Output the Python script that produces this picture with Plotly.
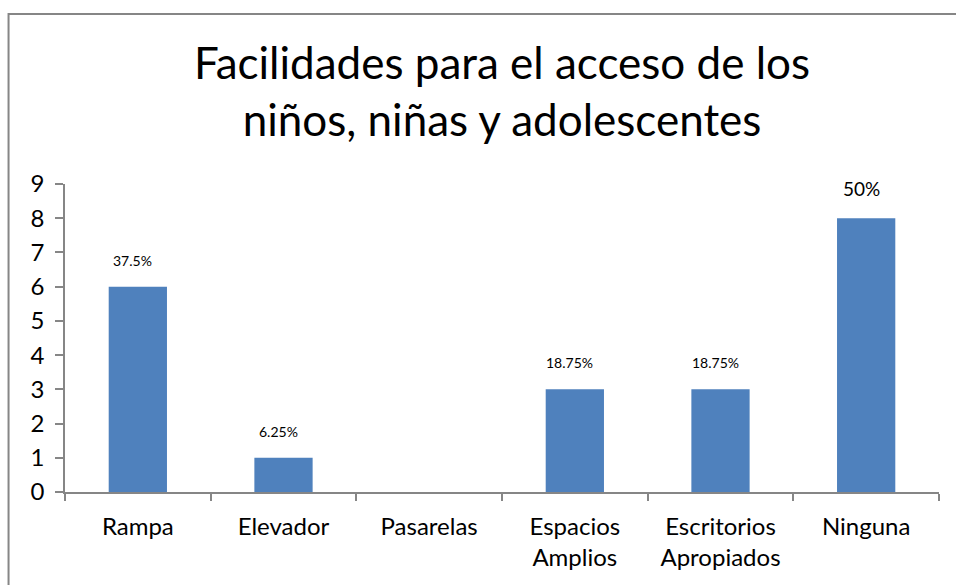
import plotly.graph_objects as go

categories = ["Rampa", "Elevador", "Pasarelas", "Espacios<br>Amplios", "Escritorios<br>Apropiados", "Ninguna"]
values = [6, 1, 0, 3, 3, 8]
percent_labels = ["37.5%", "6.25%", "", "18.75%", "18.75%", "50%"]
label_sizes = [14, 14, 14, 14, 14, 19]
y_ticks = list(range(0, 10))

FONT = "Lato"
AXIS_COLOR = "#868686"

fig = go.Figure()
fig.add_trace(go.Bar(
    x=categories, y=values,
    marker=dict(color="#4F81BD", line=dict(width=0)),
    hoverinfo="x+y",
))

for c, v, t, s in zip(categories, values, percent_labels, label_sizes):
    if t:
        fig.add_annotation(x=c, y=v, text=t, showarrow=False, yanchor="bottom",
                           yshift=16, xshift=-5, font=dict(family=FONT, size=s, color="#000000"))

fig.add_shape(type="rect", xref="paper", yref="paper",
              x0=-0.0646, x1=1.1, y0=-0.5, y1=1.552,
              line=dict(color=AXIS_COLOR, width=2), fillcolor="rgba(0,0,0,0)")

fig.update_layout(
    width=956, height=585,
    margin=dict(l=65, r=17, t=184, b=93),
    paper_bgcolor="white", plot_bgcolor="white",
    showlegend=False,
    bargap=0.6,
    font=dict(family=FONT, color="#000000"),
    title=dict(text="Facilidades para el acceso de los<br>niños, niñas y adolescentes",
               x=0.5, xanchor="center", xref="paper",
               y=1 - 79 / 585, yanchor="top", yref="container",
               font=dict(family=FONT, size=44, color="#000000")),
    xaxis=dict(showline=True, linecolor=AXIS_COLOR, linewidth=1.5,
               ticks="outside", ticklen=7, tickcolor=AXIS_COLOR, tickwidth=1.5,
               tickson="boundaries", showgrid=False, zeroline=False,
               tickfont=dict(family=FONT, size=24, color="#000000"),
               ticklabelstandoff=12, fixedrange=True),
    yaxis=dict(range=[0, 9], tickvals=y_ticks, showline=True, linecolor=AXIS_COLOR, linewidth=1.5,
               ticks="outside", ticklen=8, tickcolor=AXIS_COLOR, tickwidth=1.5,
               showgrid=False, zeroline=False,
               tickfont=dict(family=FONT, size=24, color="#000000"),
               ticklabelstandoff=6, fixedrange=True),
)

fig.write_html("out.html", config={"displayModeBar": False},
               post_script="document.body.style.margin='0px';")
